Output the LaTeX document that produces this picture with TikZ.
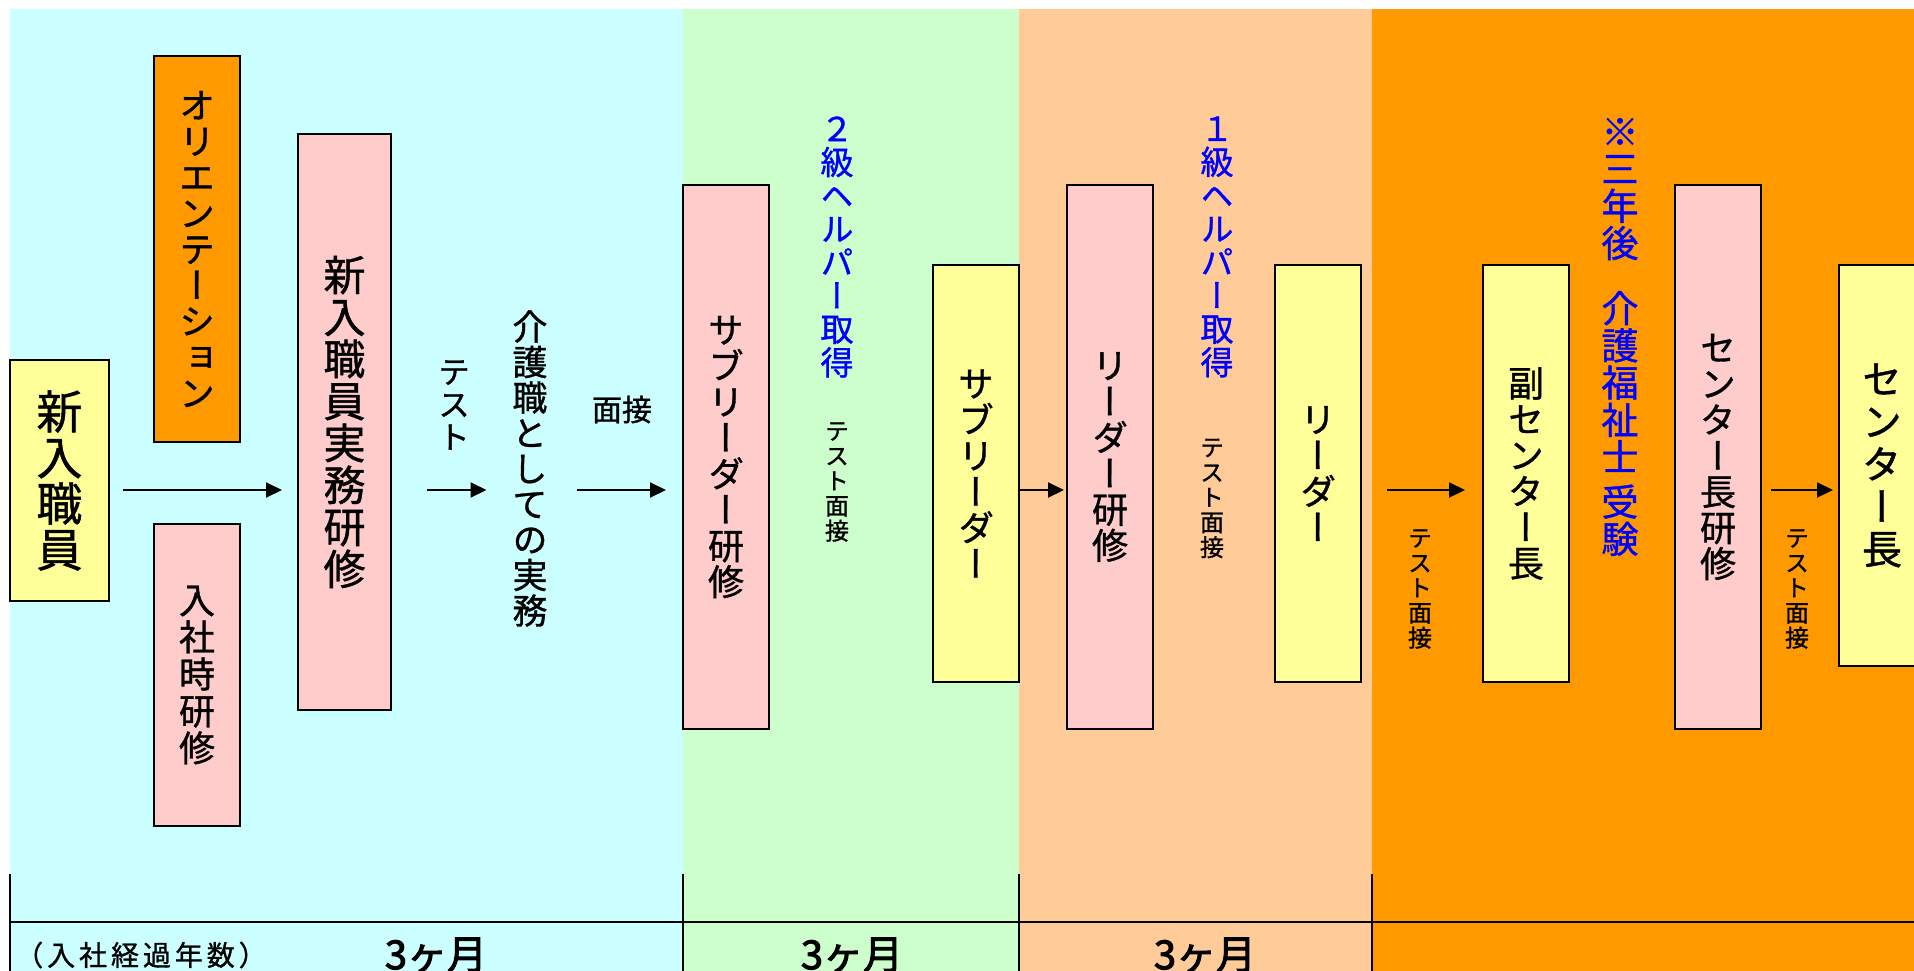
\documentclass[tikz,border=0pt]{standalone}
\usepackage{fontspec}
\newfontfamily\jp[FakeBold=1]{Noto Sans CJK JP}
\newfontfamily\jpwide[FakeBold=1,LetterSpace=14]{Noto Sans CJK JP}
\newfontfamily\jpheavy[FakeBold=2.5]{Noto Sans CJK JP}
\newfontfamily\vjp[RawFeature=+vert,FakeBold=1]{Noto Sans CJK JP}
\usetikzlibrary{arrows.meta}

\definecolor{cyanbg}{HTML}{CCFFFF}
\definecolor{greenbg}{HTML}{CCFFCC}
\definecolor{peachbg}{HTML}{FFCC99}
\definecolor{orangebg}{HTML}{FF9900}
\definecolor{pinkbox}{HTML}{FFCCCC}
\definecolor{yellowbox}{HTML}{FFFF99}
\definecolor{helper}{HTML}{0000FF}

\begin{document}
\begin{tikzpicture}[x=1pt,y=-1pt,line width=2pt,>={Triangle[length=16pt,width=15pt]},
    stage/.style={draw,inner sep=0pt,minimum width=86,align=center},
    vt/.style 2 args={inner sep=0pt,align=center,font={\vjp\fontsize{#1}{#2}\selectfont\lineskiplimit=-100pt}},
    month/.style={font={\jpheavy\fontsize{40}{40}\selectfont}}]

  \path [use as bounding box,clip] (0,0) rectangle (1914,971);
  \fill [white] (0,0) rectangle (1914,971);
  \fill [cyanbg] (10,9) rectangle (683,971);
  \fill [greenbg] (683,9) rectangle (1019,971);
  \fill [peachbg] (1019,9) rectangle (1372,971);
  \fill [orangebg] (1372,9) rectangle (1914,971);

  \coordinate (row) at (0,490);

  \node (newstaff) at (59.5,480.5) [stage,vt={46}{46},fill=yellowbox,minimum width=99,minimum height=241] {新\\入\\職\\員};
  \node (orient) at (197,249) [stage,vt={36}{36},fill=orangebg,minimum height=386] {オ\\リ\\エ\\ン\\テ\\ー\\シ\\ョ\\ン};
  \node (intro) at (197,675) [stage,vt={36}{37},fill=pinkbox,minimum height=302] {入\\社\\時\\研\\修};
  \node (practice) at (344.5,422) [stage,vt={42}{42},fill=pinkbox,minimum width=93,minimum height=576] {新\\入\\職\\員\\実\\務\\研\\修};
  \node (test) at (454,405) [vt={32}{32.7}] {テ\\ス\\ト};
  \node (carework) at (530,468.5) [vt={35}{35.5}] {介\\護\\職\\と\\し\\て\\の\\実\\務};
  \node (interview) at (622,409.5) [font={\jp\fontsize{30}{30}\selectfont}] {面接};

  \node (subtrain) at (726,457) [stage,vt={36}{36},fill=pinkbox,minimum height=544] {サ\\ブ\\リ\\ー\\ダ\\ー\\研\\修};
  \node (helper2) at (837,247) [vt={33}{33.4},text=helper] {２\\級\\ヘ\\ル\\パ\\ー\\取\\得};
  \node (exam1) at (837,482) [vt={24}{25}] {テ\\ス\\ト\\面\\接};
  \node (sub) at (976,473.5) [stage,vt={36}{36},fill=yellowbox,minimum height=417] {サ\\ブ\\リ\\ー\\ダ\\ー};

  \node (leadtrain) at (1110,457) [stage,vt={36}{36},fill=pinkbox,minimum height=544] {リ\\ー\\ダ\\ー\\研\\修};
  \node (helper1) at (1217,247) [vt={33}{33.4},text=helper] {１\\級\\ヘ\\ル\\パ\\ー\\取\\得};
  \node (exam2) at (1212,498.5) [vt={24}{25}] {テ\\ス\\ト\\面\\接};
  \node (leader) at (1318,473.5) [stage,vt={36}{36},fill=yellowbox,minimum height=417] {リ\\ー\\ダ\\ー};

  \node (exam3) at (1420,589) [vt={24}{25}] {テ\\ス\\ト\\面\\接};
  \node (vicechief) at (1526,473.5) [stage,vt={36}{36},fill=yellowbox,minimum height=417] {副\\セ\\ン\\タ\\ー\\長};
  \node (certify) at (1620,337) [vt={37}{37.2},text=helper] {※\\三\\年\\後\\[28pt]介\\護\\福\\祉\\士\\[7.5pt]受\\験};
  \node (chieftrain) at (1718,457) [stage,vt={36}{36},fill=pinkbox,minimum height=544] {セ\\ン\\タ\\ー\\長\\研\\修};
  \node (exam4) at (1797,589) [vt={24}{25}] {テ\\ス\\ト\\面\\接};
  \node (chief) at (1882,465.5) [stage,vt={40}{42.5},fill=yellowbox,minimum height=401] {セ\\ン\\タ\\ー\\長};

  \draw [->,shorten <=13pt,shorten >=15pt] (newstaff.east |- row) -- (practice.west |- row);
  \draw [->,shorten <=35pt,shorten >=25pt] (practice.east |- row) -- (carework.west |- row);
  \draw [->,shorten <=28pt,shorten >=16pt] (carework.east |- row) -- (subtrain.west |- row);
  \draw [->,shorten >=2pt] (sub.east |- row) -- (leadtrain.west |- row);
  \draw [->,shorten <=25pt,shorten >=17pt] (leader.east |- row) -- (vicechief.west |- row);
  \draw [->,shorten <=9pt,shorten >=5pt] (chieftrain.east |- row) -- (chief.west |- row);

  \draw [line width=2.5pt] (10,922) -- (1914,922);
  \foreach \x in {10,683,1019,1372}
    \draw (\x,874) -- (\x,971);

  \node (years) at (141,955) [font={\jpwide\fontsize{28}{28}\selectfont}] {（入社経過年数）};
  \node (m1) at (436,955) [month] {3ヶ月};
  \node (m2) at (852,955) [month] {3ヶ月};
  \node (m3) at (1205,955) [month] {3ヶ月};

\end{tikzpicture}
\end{document}
